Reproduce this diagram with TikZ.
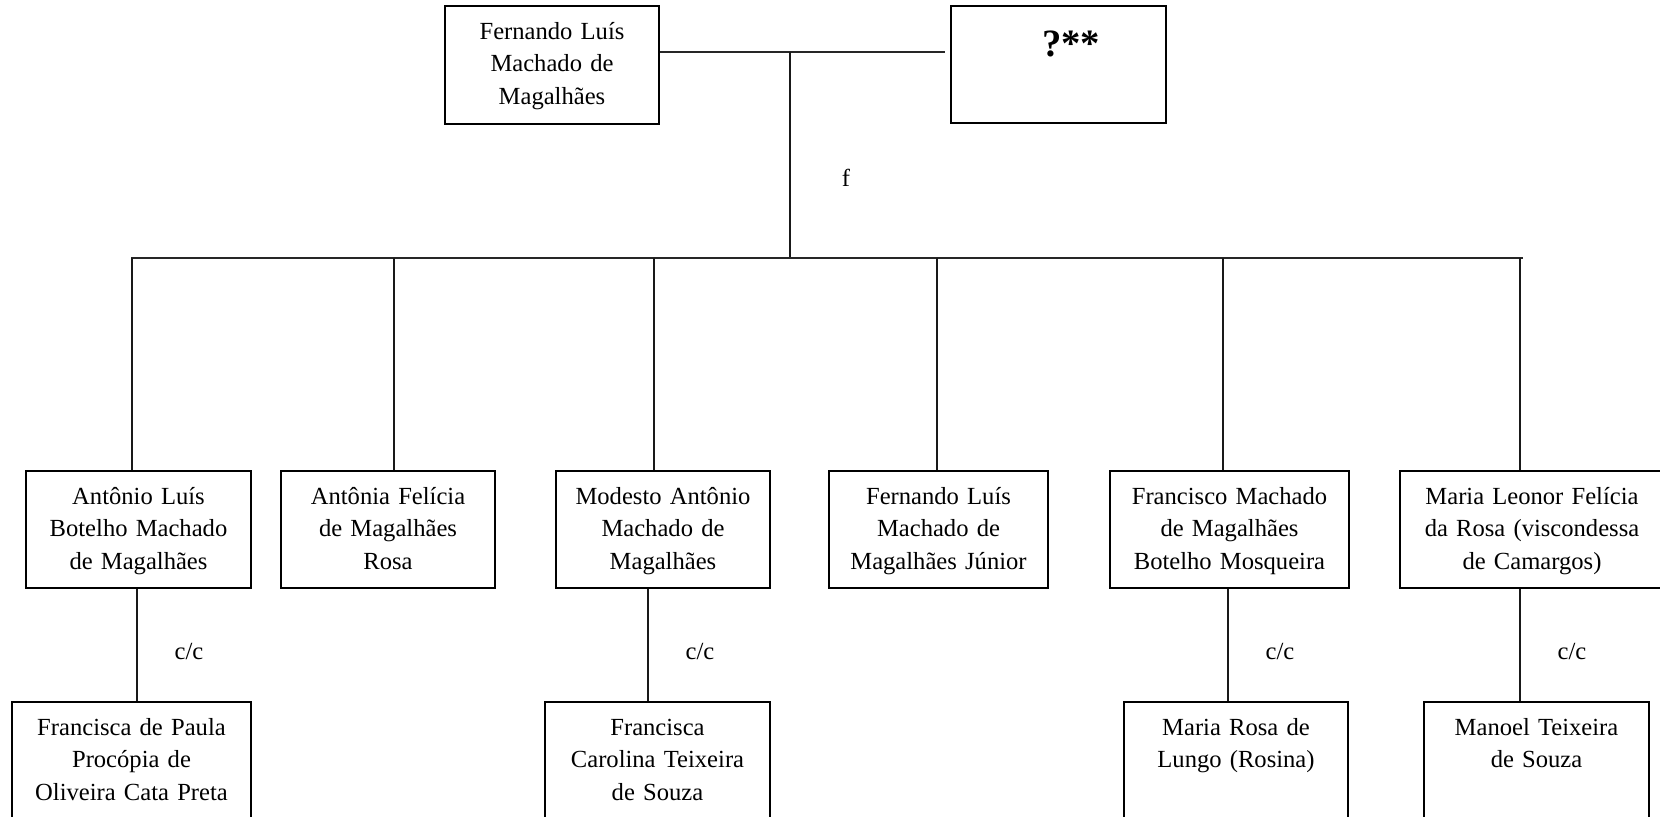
\documentclass[tikz,border=0pt]{standalone}
\usepackage{fontspec}
\setmainfont{Liberation Serif}
\usepackage{tikz}
\usetikzlibrary{positioning}

\begin{document}
\begin{tikzpicture}
            [x=0.02cm, y=-0.02cm,
             pessoa/.style={draw, line width=1.2pt, inner sep=0pt, align=center, anchor=north, text height=0.66cm, text depth=1.68cm, font=\fontsize{14}{18.7}\selectfont},
             conjuge/.style={pessoa, text depth=2.6cm},
             liga/.style={draw=black!90, line width=.85pt},
             barra/.style={draw=black!85, line width=1.2pt},
             cc/.style={midway, xshift=1.04cm, yshift=-0.12cm, font=\fontsize{14}{18.7}\selectfont}]
            \useasboundingbox (0,0) rectangle (1660,817);
            % casal
            \node[pessoa, minimum width=4.28cm, text width=4.1cm, text depth=1.7cm] (fernando) at (552,5) {Fernando Luís\\Machado de\\Magalhães};
            \node[pessoa, minimum width=4.3cm, text width=4.1cm, text height=1cm, text depth=1.34cm, font=\bfseries\fontsize{22}{26}\selectfont] (incognita) at (1058.5,5) {\hspace*{0.5cm}?**};
            \coordinate (uniao) at (790,52);
            \coordinate (ramo) at (790,258);
            \draw[barra, shorten >=0.1cm] (fernando.east |- uniao) -- (incognita.west |- uniao);
            \draw[liga] (uniao) -- (ramo) node[pos=.61, xshift=1.12cm, font=\fontsize{14}{18.7}\selectfont] {f};
            % filhos
            \node[pessoa, minimum width=4.5cm, text width=4.3cm] (antonio) at (138.5,470) {Antônio Luís\\Botelho Machado\\de Magalhães};
            \node[pessoa, minimum width=4.28cm, text width=4.1cm] (antonia) at (388,470) {Antônia Felícia\\de Magalhães\\Rosa};
            \node[pessoa, minimum width=4.28cm, text width=4.1cm] (modesto) at (663,470) {Modesto Antônio\\Machado de\\Magalhães};
            \node[pessoa, minimum width=4.38cm, text width=4.2cm] (fernandojr) at (938.5,470) {Fernando Luís\\Machado de\\Magalhães Júnior};
            \node[pessoa, minimum width=4.78cm, text width=4.6cm] (francisco) at (1229.5,470) {Francisco Machado\\de Magalhães\\Botelho Mosqueira};
            \node[pessoa, minimum width=5.28cm, text width=5.1cm] (leonor) at (1532,470) {Maria Leonor Felícia\\da Rosa (viscondessa\\de Camargos)};
            \draw[barra] (131,258) coordinate (bl) -- (1523,258) coordinate (br);
            \foreach \x/\n in {132/antonio, 394/antonia, 654/modesto, 937/fernandojr, 1223/francisco, 1520/leonor}{
              \coordinate (d-\n) at (\x,258);
              \draw[liga] (d-\n) -- (d-\n |- \n.north);
            }
            % conjuges
            \node[conjuge, minimum width=4.78cm, text width=4.6cm] (francisca) at (131.5,701) {Francisca de Paula\\Procópia de\\Oliveira Cata Preta};
            \node[conjuge, minimum width=4.5cm, text width=4.3cm] (carolina) at (657.5,701) {Francisca\\Carolina Teixeira\\de Souza};
            \node[conjuge, minimum width=4.48cm, text width=4.3cm] (rosina) at (1236,701) {Maria Rosa de\\Lungo (Rosina)};
            \node[conjuge, minimum width=4.5cm, text width=4.3cm] (manoel) at (1536.5,701) {Manoel Teixeira\\de Souza};
            \foreach \pai/\conj/\dx in {antonio/francisca/-0.03, modesto/carolina/-0.3, francisco/rosina/-0.03, leonor/manoel/-0.24}{
              \coordinate (l-\pai) at ([xshift=\dx cm]\pai.south);
              \draw[liga] (l-\pai) -- (l-\pai |- \conj.north) node[cc] {c/c};
            }
\end{tikzpicture}
\end{document}
